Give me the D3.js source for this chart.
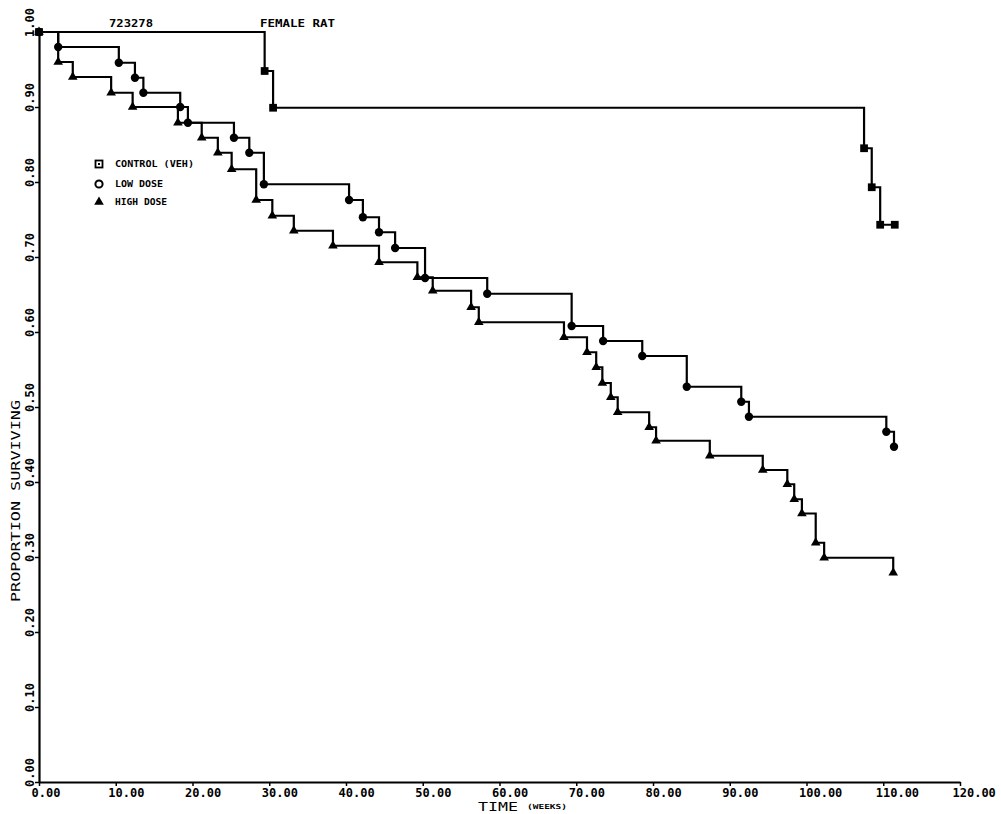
<!DOCTYPE html>
<html>
<head>
<meta charset="utf-8">
<script src="https://cdn.jsdelivr.net/npm/d3@7"></script>
<style>
  html, body { margin: 0; padding: 0; background: #fff; }
  svg { display: block; }
  text { font-family: "DejaVu Sans Mono", "Liberation Mono", monospace; fill: #000; }
</style>
</head>
<body>
<svg id="chart" width="1001" height="814"></svg>
<script>
// ---- data ----
const controlTimes  = [0, 29.4, 30.5, 107.5, 108.5, 109.6, 111.5];
const controlValues = [1.0, 0.948, 0.899, 0.845, 0.793, 0.743, 0.743];

const lowTimes  = [0, 2.5, 10.4, 12.5, 13.6, 18.4, 19.4, 25.4, 27.4, 29.3, 40.4, 42.2, 44.3, 46.4, 50.3, 58.4, 69.4, 73.5, 78.6, 84.4, 91.5, 92.5, 110.4, 111.4];
const lowValues = [1.0, 0.980, 0.959, 0.939, 0.919, 0.900, 0.879, 0.859, 0.839, 0.797, 0.776, 0.753, 0.733, 0.712, 0.672, 0.651, 0.608, 0.588, 0.568, 0.527, 0.507, 0.487, 0.467, 0.447];

const highTimes  = [0, 2.5, 4.4, 9.4, 12.2, 18.1, 21.2, 23.3, 25.1, 28.3, 30.4, 33.2, 38.3, 44.3, 49.3, 51.3, 56.3, 57.3, 68.4, 71.4, 72.6, 73.4, 74.5, 75.4, 79.5, 80.4, 87.4, 94.3, 97.5, 98.4, 99.4, 101.2, 102.3, 111.3];
const highValues = [1.0, 0.960, 0.940, 0.919, 0.900, 0.879, 0.859, 0.839, 0.817, 0.776, 0.755, 0.735, 0.715, 0.693, 0.673, 0.655, 0.633, 0.613, 0.593, 0.573, 0.553, 0.532, 0.513, 0.493, 0.473, 0.455, 0.435, 0.416, 0.397, 0.377, 0.358, 0.319, 0.299, 0.279];

const seriesNames = ["CONTROL (VEH)", "LOW DOSE", "HIGH DOSE"];
const xTickValues = [0, 10, 20, 30, 40, 50, 60, 70, 80, 90, 100, 110, 120];
const xTickLabels = ["0.00", "10.00", "20.00", "30.00", "40.00", "50.00", "60.00", "70.00", "80.00", "90.00", "100.00", "110.00", "120.00"];
const yTickValues = [0, 0.1, 0.2, 0.3, 0.4, 0.5, 0.6, 0.7, 0.8, 0.9, 1.0];
const yTickLabels = ["0.00", "0.10", "0.20", "0.30", "0.40", "0.50", "0.60", "0.70", "0.80", "0.90", "1.00"];
const studyId = "723278";
const subtitle = "FEMALE RAT";
const xTitle = "TIME";
const xUnit = "(WEEKS)";
const yTitle = "PROPORTION SURVIVING";

// ---- chart ----
const svg = d3.select("#chart");
const x = d3.scaleLinear().domain([0, 120]).range([39, 960]);
const y = d3.scaleLinear().domain([0, 1]).range([782, 32]);

// axes
const xAxis = d3.axisBottom(x).tickValues(xTickValues)
  .tickFormat((d, i) => xTickLabels[i]).tickSize(4).tickSizeOuter(0);
const gx = svg.append("g").attr("transform", `translate(0,${y(0)})`).call(xAxis);
gx.select(".domain").attr("stroke", "#000").attr("stroke-width", 2.2);
gx.selectAll(".tick line").attr("stroke", "#000").attr("stroke-width", 1.5);
gx.selectAll(".tick text")
  .attr("text-anchor", "start").attr("x", -8).attr("y", 6).attr("dy", "0.71em")
  .style("font-size", "12px").style("font-weight", "bold");

const yAxis = d3.axisLeft(y).tickValues(yTickValues)
  .tickFormat((d, i) => yTickLabels[i]).tickSize(4).tickSizeOuter(0);
const gy = svg.append("g").attr("transform", `translate(${x(0)},0)`).call(yAxis);
gy.select(".domain").attr("stroke", "#000").attr("stroke-width", 2.2);
gy.selectAll(".tick line").attr("stroke", "#000").attr("stroke-width", 1.5);
gy.selectAll(".tick text")
  .attr("x", null).attr("dy", null)
  .attr("text-anchor", "middle")
  .attr("dominant-baseline", "central")
  .attr("transform", "translate(-9,-10) rotate(-90)")
  .style("font-size", "12px").style("font-weight", "bold");

// step curves
const line = d3.line()
  .x(d => x(d[0])).y(d => y(d[1]))
  .curve(d3.curveStepAfter);

const series = [
  { name: seriesNames[0], pts: controlTimes.map((t, i) => [t, controlValues[i]]), sym: d3.symbolSquare, size: 60 },
  { name: seriesNames[1], pts: lowTimes.map((t, i) => [t, lowValues[i]]), sym: d3.symbolCircle, size: 55 },
  { name: seriesNames[2], pts: highTimes.map((t, i) => [t, highValues[i]]), sym: d3.symbolTriangle, size: 40 }
];

series.forEach(s => {
  svg.append("path")
    .datum(s.pts)
    .attr("fill", "none")
    .attr("stroke", "#000")
    .attr("stroke-width", 2.2)
    .attr("d", line);
  svg.append("g").selectAll("path")
    .data(s.pts)
    .join("path")
    .attr("transform", d => `translate(${x(d[0])},${y(d[1])})`)
    .attr("d", d3.symbol().type(s.sym).size(s.size))
    .attr("fill", "#000");
});

// legend
const legend = svg.append("g");
const legendY = [164, 184, 202];
const legendW = [79, 48, 52];
series.forEach((s, i) => {
  if (i === 0) {
    legend.append("rect").attr("x", 95.5).attr("y", legendY[i] - 3.5).attr("width", 7).attr("height", 7)
      .attr("fill", "#fff").attr("stroke", "#000").attr("stroke-width", 1.8);
    legend.append("rect").attr("x", 98).attr("y", legendY[i] - 1).attr("width", 2).attr("height", 2).attr("fill", "#000");
  } else if (i === 1) {
    legend.append("circle").attr("cx", 99).attr("cy", legendY[i]).attr("r", 3.6)
      .attr("fill", "#fff").attr("stroke", "#000").attr("stroke-width", 2);
  } else {
    legend.append("path").attr("transform", `translate(99,${legendY[i]})`)
      .attr("d", d3.symbol().type(d3.symbolTriangle).size(40)).attr("fill", "#000");
  }
  legend.append("text")
    .attr("x", 115).attr("y", legendY[i] + 3)
    .attr("textLength", legendW[i]).attr("lengthAdjust", "spacingAndGlyphs")
    .style("font-size", "8.5px").style("font-weight", "bold")
    .text(s.name);
});

// titles
svg.append("text").attr("x", 109).attr("y", 27)
  .attr("textLength", 44).attr("lengthAdjust", "spacingAndGlyphs")
  .style("font-size", "11px").style("font-weight", "bold").text(studyId);
svg.append("text").attr("x", 260).attr("y", 27)
  .attr("textLength", 75).attr("lengthAdjust", "spacingAndGlyphs")
  .style("font-size", "11px").style("font-weight", "bold").text(subtitle);

svg.append("text").attr("x", 478).attr("y", 811)
  .attr("textLength", 40).attr("lengthAdjust", "spacingAndGlyphs")
  .style("font-size", "13px").text(xTitle);
svg.append("text").attr("x", 527).attr("y", 809)
  .attr("textLength", 40).attr("lengthAdjust", "spacingAndGlyphs")
  .style("font-size", "7px").style("font-weight", "bold").text(xUnit);

svg.append("text")
  .attr("transform", "translate(20,501) rotate(-90)")
  .attr("text-anchor", "middle")
  .attr("textLength", 202).attr("lengthAdjust", "spacingAndGlyphs")
  .style("font-size", "13px").text(yTitle);
</script>
</body>
</html>
